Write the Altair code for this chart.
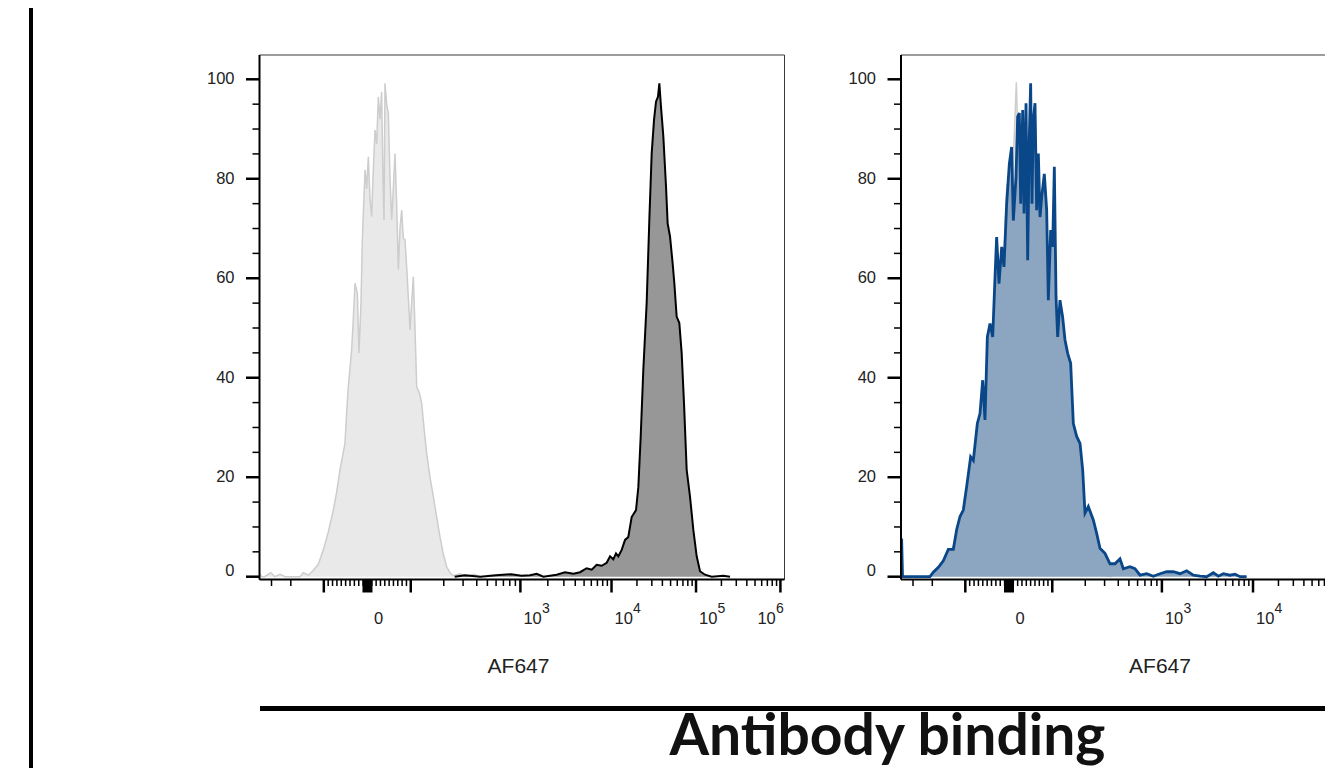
import math
import altair as alt
import pandas as pd

# ---------------- data (display channel 0-1024 of the biexponential AF647 axis, % of max) ----------------
ctrl_left_ch = [0, 4, 10, 22, 30, 40, 50, 78.8, 85.3, 95.1,
                104.8, 114.5, 124.3, 134.0, 143.7, 150.2, 156.7, 166.4, 169.7, 172.9,
                179.4, 182.7, 185.9, 190.5, 193.7, 197.6, 200.2, 205.4, 208.6, 211.9,
                215.1, 218.4, 221.6, 224.9, 228.1, 231.3, 234.6, 237.8, 240.4, 242.4,
                244.3, 247.6, 250.8, 254.1, 257.3, 260.5, 263.8, 267.0, 270.3, 273.5,
                276.8, 280.0, 283.3, 287.8, 293.0, 296.2, 299.5, 302.7, 306.0, 311.2,
                315.7, 320.2, 325.4, 331.9, 338.4, 344.9, 351.4, 357.9, 364.4, 370.9,
                377.4, 390.3, 403.3, 416.3, 429.3]
ctrl_left_pct = [0.6, 0, 0, 0.8, 0, 0.5, 0, 0, 0.8, 0.3,
                 1.3, 2.5, 5.4, 9.0, 13.4, 17.0, 21.5, 26.8, 33.0, 38.2,
                 45.6, 52.0, 59.0, 57.0, 45.0, 55.0, 67.7, 81.8, 78.0, 84.4,
                 76.0, 72.4, 82.0, 89.8, 87.0, 96.5, 92.0, 97.5, 80.0, 71.7,
                 99.2, 95.0, 93.2, 80.0, 71.7, 78.0, 85.1, 75.0, 61.7, 70.0,
                 73.7, 68.0, 67.7, 60.0, 49.6, 55.0, 60.3, 50.0, 38.2, 37.0,
                 34.9, 30.0, 24.8, 20.0, 16.1, 12.0, 8.0, 4.5, 2.0, 0.8,
                 0.2, 0.6, 0, 0.5, 0]

stained_left_ch = [380, 400, 430, 460, 490, 510,
                   526.6, 539.6, 552.6, 578.5, 594.7, 611.0, 624.0, 636.9, 646.7, 656.4,
                   666.1, 675.9, 682.4, 688.8, 694.0, 698.6, 705.1, 711.6, 718.0, 724.5,
                   733.0, 737.5, 742.1, 747.2, 753.7, 758.9, 763.5, 768.0, 771.9, 775.8,
                   778.4, 781.6, 786.2, 791.4, 794.6, 799.2, 804.3, 807.6, 812.1, 817.3,
                   821.9, 826.4, 831.6, 838.1, 844.6, 851.1, 857.6, 867.3, 880.3, 903.0,
                   916.0]
stained_left_pct = [0, 0.3, 0, 0.3, 0.5, 0.2,
                    0.3, 0.6, 0, 0.4, 0.9, 0.6, 0.9, 1.7, 1.4, 2.4,
                    2.2, 2.8, 4.1, 3.5, 4.7, 4.1, 5.4, 7.4, 8.0, 12.0,
                    13.4, 18.0, 28.2, 41.6, 55.0, 71.7, 85.1, 91.8, 95.5, 96.5,
                    99.2, 94.5, 88.5, 78.4, 71.0, 68.4, 63.0, 59.0, 52.3, 51.0,
                    44.9, 34.9, 21.5, 16.1, 9.4, 4.1, 1.1, 0.4, 0, 0.2,
                    0]

ctrl_right_ch = [50, 62, 75, 90, 105, 120, 135, 150, 165, 180,
                 190, 200, 206, 212, 218, 224.5, 229, 236, 244, 252,
                 260, 268, 276, 284, 292, 300, 310, 320, 330, 340,
                 350, 360, 370, 380, 395, 410]
ctrl_right_pct = [0, 0.5, 1.5, 3.5, 7, 12, 19, 27, 38, 50,
                  56, 63, 79, 70, 82, 99.4, 84, 87, 80, 88,
                  82, 76, 70, 64, 58, 50, 43, 36, 28, 21,
                  13, 7.5, 3.5, 1.2, 0.3, 0]

blocked_right_ch = [0, 1.3, 3, 56.5, 62.9, 72.7, 82.4, 92.1, 101.9, 108.4,
                    114.9, 121.3, 127.8, 135.6, 140.8, 148.6, 153.8, 159.0, 163.5, 168.1,
                    173.3, 178.5, 183.0, 186.2, 190.8, 196.0, 200.5, 205.7, 210.9, 215.4,
                    218.7, 223.9, 227.1, 230.4, 233.0, 236.9, 239.5, 243.4, 246.6, 249.8,
                    252.4, 255.0, 257.6, 260.9, 264.1, 267.4, 270.6, 273.9, 279.0, 283.6,
                    286.8, 291.4, 295.3, 298.5, 301.8, 305.0, 309.5, 314.7, 319.3, 324.5,
                    330.3, 335.5, 342.0, 348.5, 353.7, 358.2, 364.7, 374.4, 380.9, 387.4,
                    397.1, 406.9, 416.6, 426.3, 432.8, 445.8, 455.5, 465.3, 478.3, 491.2,
                    504.2, 517.2, 530.2, 543.2, 556.1, 569.1, 582.1, 595.1, 608.0, 617.8,
                    627.5, 640.5, 650.2, 660.0, 672.9]
blocked_right_pct = [7.4, 7.4, 0, 0, 0.9, 1.9, 3.2, 5.5, 5.5, 9.5,
                     12.1, 13.4, 18.1, 24.1, 23.4, 30.8, 32.8, 39.5, 31.5, 48.2,
                     50.9, 48.2, 60.2, 68.3, 58.9, 66.3, 62.3, 75.0, 83.0, 86.4,
                     71.6, 80.4, 92.5, 93.2, 75.0, 93.8, 73.0, 95.2, 63.6, 88.5,
                     99.2, 75.0, 91.8, 95.2, 73.7, 85.1, 72.3, 76.3, 81.0, 73.7,
                     55.6, 69.7, 66.3, 82.4, 56.3, 48.2, 55.6, 52.2, 47.6, 44.9,
                     42.9, 30.8, 28.2, 26.8, 21.5, 12.8, 14.1, 11.4, 8.7, 5.7,
                     4.7, 2.6, 2.6, 3.6, 1.6, 2.0, 1.6, 0.3, 0.6, 0.1,
                     0.6, 1.0, 1.0, 0.6, 1.2, 0.3, 0.1, 0, 0.8, 0.1,
                     0.6, 0.3, 0.5, 0, 0]

# axis definition: channel of 0, -100 and of each decade 10^2..10^6
zero_channel = 210.2
neg100_channel = 125.2
decade_values = [100, 1000, 10000, 100000, 1000000]
decade_channels = [294.5, 507.9, 685.3, 849.8, 1014.1]
exp_labels = ["3", "4", "5", "6"]
y_major = [0, 20, 40, 60, 80, 100]
y_minor = [5, 10, 15, 25, 30, 35, 45, 50, 55, 65, 70, 75, 85, 90, 95]
axis_title = "AF647"
figure_title = "Antibody binding"


def to_ch(v):
    if v == 0:
        return zero_channel
    if 0 < v <= 100:
        return zero_channel + v / 100 * (decade_channels[0] - zero_channel)
    if -100 <= v < 0:
        return zero_channel + v / 100 * (zero_channel - neg100_channel)
    if v > 100:
        k = math.floor(math.log10(v) + 1e-9)
        i = k - 2
        if i >= len(decade_channels) - 1:
            return decade_channels[-1]
        return decade_channels[i] + (decade_channels[i + 1] - decade_channels[i]) * (math.log10(v) - k)
    return neg100_channel - (decade_channels[1] - decade_channels[0]) * (math.log10(-v) - 2)


major_ticks = [-100, 100, 1e3, 1e4, 1e5, 1e6]
minor_ticks = [-300, -200] + [-v for v in range(10, 100, 10)] + list(range(10, 100, 10))
minor_ticks += [m * 10 ** k for k in range(2, 6) for m in range(2, 10)]

# whole page must fit inside 1333x782 including the 8px body margin
W, H = 1317, 760
FRAME_TOP, FRAME_BOT = 47, 571.5
PANEL_W = 525
FONT = "Liberation Sans"
one = pd.DataFrame({"k": [0]})


def panel(x0, series, n_decade_labels):
    xs = alt.Scale(domain=[0, 1024], range=[x0, x0 + 526], nice=False, zero=False)
    ys = alt.Scale(domain=[0, 100], range=[568.7, 71.3], nice=False, zero=False)

    def X(f):
        return alt.X(f, type="quantitative", scale=xs, axis=None)

    def Y(f):
        return alt.Y(f, type="quantitative", scale=ys, axis=None)

    layers = [
        alt.Chart(one).mark_rect(fill="white", stroke="#3a3a3a", strokeWidth=1).encode(
            x=alt.value(x0), x2=alt.value(x0 + PANEL_W), y=alt.value(FRAME_TOP), y2=alt.value(FRAME_BOT))
    ]
    for ch, pct, fill, stroke, sw in series:
        df = pd.DataFrame({"channel": ch, "pct": pct})
        base = alt.Chart(df)
        layers.append(base.mark_area(color=fill, interpolate="linear").encode(x=X("channel"), y=Y("pct")))
        layers.append(base.mark_line(color=stroke, strokeWidth=sw, interpolate="linear").encode(
            x=X("channel"), y=Y("pct")))

    # y ticks & labels
    layers.append(alt.Chart(pd.DataFrame({"v": y_major})).mark_rule(color="black", strokeWidth=2.5).encode(
        y=Y("v"), x=alt.value(x0 - 13.5), x2=alt.value(x0)))
    layers.append(alt.Chart(pd.DataFrame({"v": y_minor})).mark_rule(color="black", strokeWidth=1.5).encode(
        y=Y("v"), x=alt.value(x0 - 7), x2=alt.value(x0)))
    ylab = pd.DataFrame({"v": y_major[1:], "txt": [str(v) for v in y_major[1:]]})
    layers.append(alt.Chart(ylab).mark_text(align="right", baseline="middle", font=FONT, fontSize=16.5,
                                            color="#222").encode(y=Y("v"), x=alt.value(x0 - 25), text="txt:N"))
    layers.append(alt.Chart(pd.DataFrame({"v": [0], "txt": ["0"]})).mark_text(
        align="right", baseline="middle", font=FONT, fontSize=16.5, color="#222", dy=-6).encode(
        y=Y("v"), x=alt.value(x0 - 25), text="txt:N"))

    # x ticks
    layers.append(alt.Chart(pd.DataFrame({"c": [to_ch(v) for v in minor_ticks]})).mark_rule(
        color="black", strokeWidth=1.5).encode(x=X("c"), y=alt.value(FRAME_BOT), y2=alt.value(FRAME_BOT + 6.5)))
    layers.append(alt.Chart(pd.DataFrame({"c": [to_ch(v) for v in major_ticks]})).mark_rule(
        color="black", strokeWidth=2.5).encode(x=X("c"), y=alt.value(FRAME_BOT), y2=alt.value(FRAME_BOT + 13)))
    layers.append(alt.Chart(pd.DataFrame({"c": [to_ch(0)]})).mark_rule(
        color="black", strokeWidth=10).encode(x=X("c"), y=alt.value(FRAME_BOT), y2=alt.value(FRAME_BOT + 13)))

    # x labels
    layers.append(alt.Chart(pd.DataFrame({"c": [to_ch(0)], "txt": ["0"]})).mark_text(
        align="center", baseline="middle", font=FONT, fontSize=16.5, color="#222", dx=11).encode(
        x=X("c"), y=alt.value(610.5), text="txt:N"))
    n_mid = min(n_decade_labels, 3)
    dec = pd.DataFrame({"c": decade_channels[1:1 + n_mid], "base": ["10"] * n_mid, "exp": exp_labels[:n_mid]})
    layers.append(alt.Chart(dec).mark_text(align="left", baseline="middle", font=FONT, fontSize=16.5,
                                           color="#222", dx=3).encode(x=X("c"), y=alt.value(610.5), text="base:N"))
    layers.append(alt.Chart(dec).mark_text(align="left", baseline="middle", font=FONT, fontSize=14,
                                           color="#222", dx=21.5).encode(x=X("c"), y=alt.value(601), text="exp:N"))
    if n_decade_labels > 3:
        last = pd.DataFrame({"c": decade_channels[4:], "base": ["10"], "exp": exp_labels[3:]})
        layers.append(alt.Chart(last).mark_text(align="left", baseline="middle", font=FONT, fontSize=16.5,
                                                color="#222", dx=-23).encode(
            x=X("c"), y=alt.value(610.5), text="base:N"))
        layers.append(alt.Chart(last).mark_text(align="left", baseline="middle", font=FONT, fontSize=14,
                                                color="#222", dx=-4.5).encode(
            x=X("c"), y=alt.value(601), text="exp:N"))

    # axis lines (left and bottom, heavier)
    layers.append(alt.Chart(one).mark_rule(color="black", strokeWidth=2).encode(
        x=alt.value(x0), y=alt.value(FRAME_TOP), y2=alt.value(FRAME_BOT)))
    layers.append(alt.Chart(one).mark_rule(color="black", strokeWidth=2).encode(
        x=alt.value(x0), x2=alt.value(x0 + PANEL_W), y=alt.value(FRAME_BOT)))

    # axis title
    layers.append(alt.Chart(one).mark_text(text=axis_title, align="center", baseline="middle", font=FONT,
                                           fontSize=21, color="#222").encode(
        x=alt.value(x0 + 259), y=alt.value(659)))
    return alt.layer(*layers)


left = panel(251.5, [
    (ctrl_left_ch, ctrl_left_pct, "#e9e9e9", "#cdcdcd", 1.5),
    (stained_left_ch, stained_left_pct, "#979797", "#000000", 2),
], 4)
# the right panel is cropped at the figure edge: only 10^3 and 10^4 labels are in view
right = panel(893, [
    (ctrl_right_ch, ctrl_right_pct, "#e9e9e9", "#cdcdcd", 1.5),
    (blocked_right_ch, blocked_right_pct, "#8ca5c0", "#0a4789", 2.8),
], 2)

deco = alt.layer(
    alt.Chart(one).mark_rule(color="black", strokeWidth=4).encode(
        x=alt.value(23), y=alt.value(0), y2=alt.value(H)),
    alt.Chart(one).mark_rule(color="black", strokeWidth=5).encode(
        x=alt.value(252), x2=alt.value(W), y=alt.value(700.5)),
    alt.Chart(one).mark_text(text=figure_title, align="center", baseline="alphabetic", font="Lato",
                             fontWeight="bold", fontSize=57, color="#111").encode(
        x=alt.value(879.5), y=alt.value(747)),
)

chart = alt.layer(left, right, deco).resolve_scale(x="independent", y="independent").properties(
    width=W, height=H, autosize=alt.AutoSizeParams(type="none"), padding=0
).configure_view(stroke=None)

chart.save("out.html", embed_options={"renderer": "svg", "actions": False})
